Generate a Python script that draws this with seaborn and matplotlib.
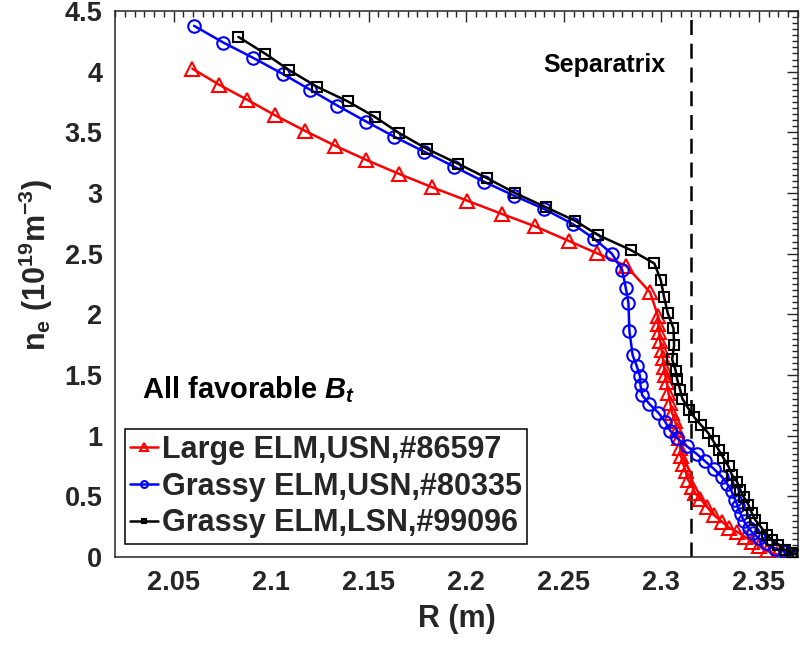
import numpy as np
import pandas as pd
import matplotlib
matplotlib.use("Agg")
import matplotlib.pyplot as plt
import seaborn as sns

# ---------------- data ----------------
large_R = [2.0596, 2.0733, 2.0877, 2.1022, 2.1174, 2.1326, 2.1487, 2.1656, 2.1826, 2.2006,
           2.2185, 2.2353, 2.2524, 2.2669, 2.2818, 2.2942, 2.2983, 2.2985, 2.2989, 2.2994,
           2.3002, 2.3008, 2.3014, 2.3019, 2.3028, 2.3036, 2.3045, 2.3054, 2.3071, 2.3079,
           2.3088, 2.3096, 2.3101, 2.3112, 2.3124, 2.3137, 2.3158, 2.3173, 2.3199, 2.3233,
           2.3268, 2.3312, 2.3347, 2.3388, 2.3429, 2.3465, 2.3501, 2.3542, 2.3593, 2.3645]
large_ne = [4.025, 3.893, 3.769, 3.639, 3.512, 3.391, 3.273, 3.157, 3.047, 2.936,
            2.826, 2.725, 2.606, 2.504, 2.401, 2.182, 1.983, 1.917, 1.851, 1.777,
            1.702, 1.636, 1.564, 1.504, 1.440, 1.355, 1.273, 1.190, 1.118, 1.050,
            0.981, 0.901, 0.829, 0.769, 0.705, 0.636, 0.579, 0.525, 0.479, 0.416,
            0.347, 0.289, 0.240, 0.207, 0.165, 0.126, 0.091, 0.050, 0.021, 0.004]

grassy_usn_R = [2.0605, 2.0755, 2.0909, 2.1060, 2.1200, 2.1339, 2.1487, 2.1630, 2.1784, 2.1938,
                2.2091, 2.2245, 2.2399, 2.2546, 2.2655, 2.2746, 2.2799, 2.2817, 2.2831, 2.2836,
                2.2853, 2.2874, 2.2890, 2.2893, 2.2901, 2.2939, 2.2985, 2.3019, 2.3045, 2.3082,
                2.3131, 2.3180, 2.3221, 2.3267, 2.3310, 2.3337, 2.3360, 2.3378, 2.3391, 2.3406,
                2.3424, 2.3447, 2.3468, 2.3499, 2.3534, 2.3583, 2.3634, 2.3660]
grassy_usn_ne = [4.378, 4.240, 4.113, 3.981, 3.851, 3.721, 3.589, 3.465, 3.341, 3.217,
                 3.093, 2.978, 2.868, 2.744, 2.624, 2.500, 2.366, 2.221, 2.095, 1.864,
                 1.661, 1.573, 1.492, 1.417, 1.335, 1.260, 1.188, 1.116, 1.041, 0.977,
                 0.912, 0.851, 0.793, 0.729, 0.661, 0.603, 0.541, 0.471, 0.421, 0.355,
                 0.293, 0.236, 0.198, 0.155, 0.112, 0.070, 0.041, 0.017]

grassy_lsn_R = [2.0832, 2.0969, 2.1094, 2.1237, 2.1393, 2.1533, 2.1657, 2.1798, 2.1960, 2.2108,
                2.2250, 2.2409, 2.2558, 2.2676, 2.2842, 2.2964, 2.2997, 2.3014, 2.3033, 2.3062,
                2.3065, 2.3055, 2.3073, 2.3081, 2.3096, 2.3107, 2.3142, 2.3168, 2.3201, 2.3240,
                2.3267, 2.3293, 2.3318, 2.3344, 2.3361, 2.3387, 2.3404, 2.3421, 2.3446, 2.3464,
                2.3481, 2.3515, 2.3541, 2.3566, 2.3600, 2.3634, 2.3669, 2.3701]
grassy_lsn_ne = [4.287, 4.149, 4.011, 3.874, 3.755, 3.626, 3.493, 3.364, 3.240, 3.121,
                 3.000, 2.882, 2.771, 2.653, 2.531, 2.419, 2.281, 2.140, 2.008, 1.884,
                 1.744, 1.628, 1.537, 1.463, 1.380, 1.306, 1.215, 1.153, 1.091, 1.022,
                 0.953, 0.884, 0.816, 0.746, 0.678, 0.622, 0.554, 0.498, 0.430, 0.361,
                 0.306, 0.237, 0.182, 0.140, 0.099, 0.058, 0.031, 0.017]

labels = ["Large ELM,USN,#86597", "Grassy ELM,USN,#80335", "Grassy ELM,LSN,#99096"]
separatrix_R = 2.315
x_ticks = [2.05, 2.10, 2.15, 2.20, 2.25, 2.30, 2.35]
x_ticklabels = ["2.05", "2.1", "2.15", "2.2", "2.25", "2.3", "2.35"]
y_ticks = [0, 0.5, 1, 1.5, 2, 2.5, 3, 3.5, 4, 4.5]
y_ticklabels = ["0", "0.5", "1", "1.5", "2", "2.5", "3", "3.5", "4", "4.5"]

# ---------------- style ----------------
sns.set_theme(style="white")
plt.rcParams["font.family"] = ["Liberation Sans", "DejaVu Sans"]
plt.rcParams["font.weight"] = "bold"
plt.rcParams["mathtext.fontset"] = "custom"
plt.rcParams["mathtext.rm"] = "Liberation Sans:bold"
plt.rcParams["mathtext.it"] = "Liberation Sans:bold:italic"
plt.rcParams["mathtext.bf"] = "Liberation Sans:bold"
plt.rcParams["mathtext.default"] = "rm"

TXT = "#262626"
fig = plt.figure(figsize=(8.0, 6.46), dpi=100)
ax = fig.add_axes([115 / 800, 89 / 646, 683 / 800, 546 / 646])

series = [
    (large_R, large_ne, labels[0], "#FF0000", "^", 10),
    (grassy_usn_R, grassy_usn_ne, labels[1], "#0000FF", "o", 9),
    (grassy_lsn_R, grassy_lsn_ne, labels[2], "#000000", "s", 6.5),
]
for R, ne, lab, col, mk, ms in series:
    df = pd.DataFrame({"R": R, "ne": ne})
    sns.lineplot(data=df, x="R", y="ne", sort=False, estimator=None, ax=ax,
                 color=col, linewidth=1.8, marker=mk, markersize=ms,
                 markerfacecolor="none", markeredgecolor=col, markeredgewidth=1.5,
                 label=lab, zorder=3)

ax.axvline(separatrix_R, color="black", linestyle=(0, (6, 3.5)), linewidth=1.8, zorder=2)

ax.set_xlim(2.02, 2.37)
ax.set_ylim(0, 4.5)
ax.set_xticks(x_ticks)
ax.set_xticklabels(x_ticklabels)
ax.set_yticks(y_ticks)
ax.set_yticklabels(y_ticklabels)
ax.set_xticks(np.arange(2.02, 2.3701, 0.005), minor=True)
ax.set_yticks(np.arange(0, 4.501, 0.05), minor=True)
ax.tick_params(which="both", direction="in", top=True, right=True, colors=TXT,
               labelsize=19.5, width=1.0)
ax.tick_params(which="major", length=8, pad=9)
ax.tick_params(which="minor", length=4)
for lab in ax.get_xticklabels() + ax.get_yticklabels():
    lab.set_fontweight("bold")
for sp in ax.spines.values():
    sp.set_color(TXT)
    sp.set_linewidth(1.1)

ax.set_xlabel("R (m)", fontsize=22, fontweight="bold", color=TXT, labelpad=6)
ax.set_ylabel(r"n$_{\rm e}$ (10$^{19}$m$^{-3}$)", fontsize=22, fontweight="bold",
              color=TXT)
ax.yaxis.set_label_coords(-0.088, 0.535)

ax.text(0.717, 0.901, "Separatrix", transform=ax.transAxes, fontsize=18,
        fontweight="bold", ha="center", va="center", color="black")
ax.text(0.039, 0.291, r"All favorable $\mathit{B}_{\mathit{t}}$", transform=ax.transAxes,
        fontsize=21, fontweight="bold", ha="left", va="baseline", color="black")

leg = ax.legend(loc="lower left", bbox_to_anchor=(0.0146, 0.024), borderaxespad=0,
                fontsize=22, frameon=True, fancybox=False, framealpha=1,
                edgecolor="black", handlelength=0.9, handletextpad=0.12,
                labelspacing=0.22, borderpad=0.18, markerscale=0.55)
leg.get_frame().set_linewidth(1.1)
for t in leg.get_texts():
    t.set_fontweight("bold")

ax.grid(False)
fig.savefig("out.png", dpi=100, facecolor="white")
